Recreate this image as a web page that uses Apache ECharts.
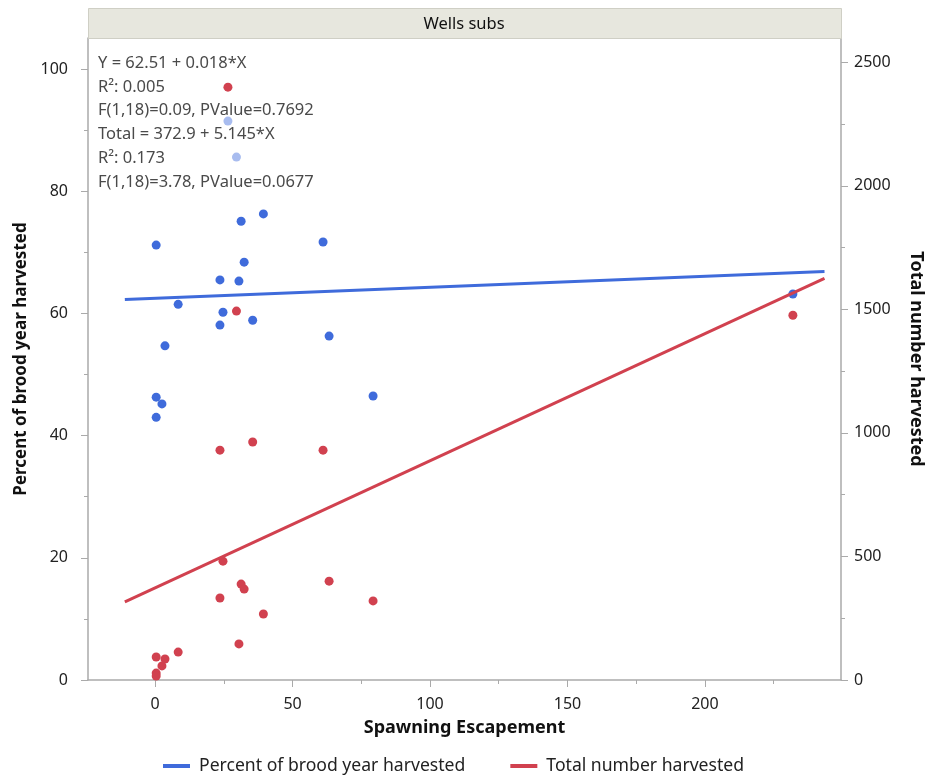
<!DOCTYPE html>
<html>
<head>
<meta charset="utf-8">
<script src="https://cdn.jsdelivr.net/npm/echarts@6/dist/echarts.min.js"></script>
<style>
html,body{margin:0;padding:0;background:#fff;}
#main{width:927px;height:780px;}
</style>
</head>
<body>
<div id="main"></div>
<script>
// ---- data ----
const panelTitle = 'Wells subs';
const xName = 'Spawning Escapement';
const leftName = 'Percent of brood year harvested';
const rightName = 'Total number harvested';

const escapement = [0.4, 0.4, 0.4, 2.5, 3.6, 8.4, 23.6, 23.6, 24.7, 26.5, 29.6, 30.5, 31.3, 32.4, 35.5, 39.4, 61.1, 63.3, 79.3, 232.0];
const percentHarvested = [71.2, 46.3, 43.0, 45.2, 54.7, 61.5, 65.5, 58.1, 60.2, 91.5, 85.6, 65.3, 75.1, 68.4, 58.9, 76.3, 71.7, 56.3, 46.5, 63.2];
const totalHarvested = [93, 28, 16, 57, 85, 113, 930, 332, 481, 2399, 1493, 146, 388, 368, 963, 267, 930, 400, 320, 1476];

const percentFitLine = [[-11, 62.31], [243.5, 66.89]];
const totalFitLine = [[-11, 316.3], [243.5, 1625.7]];

const fitText = [
  'Y = 62.51 + 0.018*X',
  'R\u00b2: 0.005',
  'F(1,18)=0.09, PValue=0.7692',
  'Total = 372.9 + 5.145*X',
  'R\u00b2: 0.173',
  'F(1,18)=3.78, PValue=0.0677'
];

const xTicks = [0, 50, 100, 150, 200];
const xMinorTicks = [25, 75, 125, 175, 225];
const leftTicks = [0, 20, 40, 60, 80, 100];
const leftMinorTicks = [10, 30, 50, 70, 90];
const rightTicks = [0, 500, 1000, 1500, 2000, 2500];
const rightMinorTicks = [250, 750, 1250, 1750, 2250];

// ---- styling ----
const FONT = 'Noto Sans';
const BLUE = '#3f6bdb';
const RED = '#d1414f';
const AXIS = '#aaaaaa';
const GRID = {left: 88, right: 86, top: 38, bottom: 100, outerBoundsMode: 'none', containLabel: false};
const X_MIN = -24.4, X_MAX = 249.5;
const L_MAX = 105.1, R_MAX = 2598;

const chart = echarts.init(document.getElementById('main'), null, {renderer: 'canvas'});

const plainNumber = v => String(v);

function majorAxis(extra) {
  return Object.assign({
    type: 'value',
    splitLine: {show: false},
    axisLine: {show: true, onZero: false, lineStyle: {color: AXIS, width: 1.5}},
    nameTextStyle: {fontFamily: FONT, fontSize: 18, fontWeight: 'bold', color: '#111'}
  }, extra);
}
function minorAxis(extra) {
  return Object.assign({
    type: 'value',
    splitLine: {show: false},
    axisLine: {show: false, onZero: false},
    axisLabel: {show: false}
  }, extra);
}

const option = {
  backgroundColor: '#fff',
  animation: false,
  grid: GRID,
  xAxis: [
    majorAxis({
      min: X_MIN, max: X_MAX, position: 'bottom',
      axisTick: {show: true, length: 7, customValues: xTicks, lineStyle: {color: AXIS}},
      axisLabel: {customValues: xTicks, formatter: plainNumber, fontFamily: FONT, fontSize: 16, color: '#222', margin: 16},
      name: xName, nameLocation: 'middle', nameGap: 39
    }),
    minorAxis({min: X_MIN, max: X_MAX, position: 'bottom',
      axisTick: {show: true, length: 4, customValues: xMinorTicks, lineStyle: {color: AXIS}}})
  ],
  yAxis: [
    majorAxis({
      min: 0, max: L_MAX, position: 'left',
      axisTick: {show: true, length: 7, customValues: leftTicks, lineStyle: {color: AXIS}},
      axisLabel: {customValues: leftTicks, formatter: plainNumber, fontFamily: FONT, fontSize: 16, color: '#222', margin: 20},
      name: leftName, nameLocation: 'middle', nameGap: 58, nameRotate: 90,
      nameTextStyle: {fontFamily: FONT, fontSize: 17, fontWeight: 'bold', color: '#111'}
    }),
    majorAxis({
      min: 0, max: R_MAX, position: 'right',
      axisTick: {show: true, length: 7, customValues: rightTicks, lineStyle: {color: AXIS}},
      axisLabel: {customValues: rightTicks, formatter: plainNumber, fontFamily: FONT, fontSize: 16, color: '#222', margin: 13},
      name: rightName, nameLocation: 'middle', nameGap: 66, nameRotate: -90
    }),
    minorAxis({min: 0, max: L_MAX, position: 'left',
      axisTick: {show: true, length: 4, customValues: leftMinorTicks, lineStyle: {color: AXIS}}}),
    minorAxis({min: 0, max: R_MAX, position: 'right',
      axisTick: {show: true, length: 4, customValues: rightMinorTicks, lineStyle: {color: AXIS}}})
  ],
  legend: {
    top: 757,
    left: 163,
    padding: 0,
    itemGap: 45,
    itemWidth: 27,
    itemHeight: 4,
    icon: 'rect',
    textStyle: {fontFamily: FONT, fontSize: 17.6, color: '#222', padding: [0, 0, 0, 4]},
    data: [leftName, rightName]
  },
  graphic: [
    {type: 'rect', left: 88, top: 8, z: 10,
      shape: {width: 753, height: 30},
      style: {fill: '#e7e7de', stroke: '#cfcfc5', lineWidth: 1}},
    {type: 'text', x: 464, y: 24, z: 11,
      style: {text: panelTitle, fill: '#111', font: '16.5px "' + FONT + '"', align: 'center', verticalAlign: 'middle'}},
    {type: 'rect', left: 91, top: 50, z: 3,
      shape: {width: 232, height: 145},
      style: {fill: 'rgba(255,255,255,0.55)'}}
  ].concat(fitText.map((t, i) => ({
    type: 'text', x: 98, y: 63 + i * 23.8, z: 6,
    style: {text: t, fill: '#4a4a4a', font: '16.5px "' + FONT + '"', verticalAlign: 'middle'}
  }))),
  series: [
    {
      type: 'scatter', name: 'pct points', xAxisIndex: 0, yAxisIndex: 0, z: 2,
      symbolSize: 9, itemStyle: {color: BLUE, opacity: 1},
      data: escapement.map((x, i) => [x, percentHarvested[i]])
    },
    {
      type: 'scatter', name: 'total points', xAxisIndex: 0, yAxisIndex: 1, z: 4,
      symbolSize: 9, itemStyle: {color: RED, opacity: 1},
      data: escapement.map((x, i) => [x, totalHarvested[i]])
    },
    {
      type: 'line', name: leftName, xAxisIndex: 0, yAxisIndex: 0, z: 5,
      showSymbol: false, symbol: 'none', color: BLUE,
      lineStyle: {color: BLUE, width: 3},
      data: percentFitLine
    },
    {
      type: 'line', name: rightName, xAxisIndex: 0, yAxisIndex: 1, z: 5,
      showSymbol: false, symbol: 'none', color: RED,
      lineStyle: {color: RED, width: 3},
      data: totalFitLine
    }
  ]
};
chart.setOption(option);
</script>
</body>
</html>
